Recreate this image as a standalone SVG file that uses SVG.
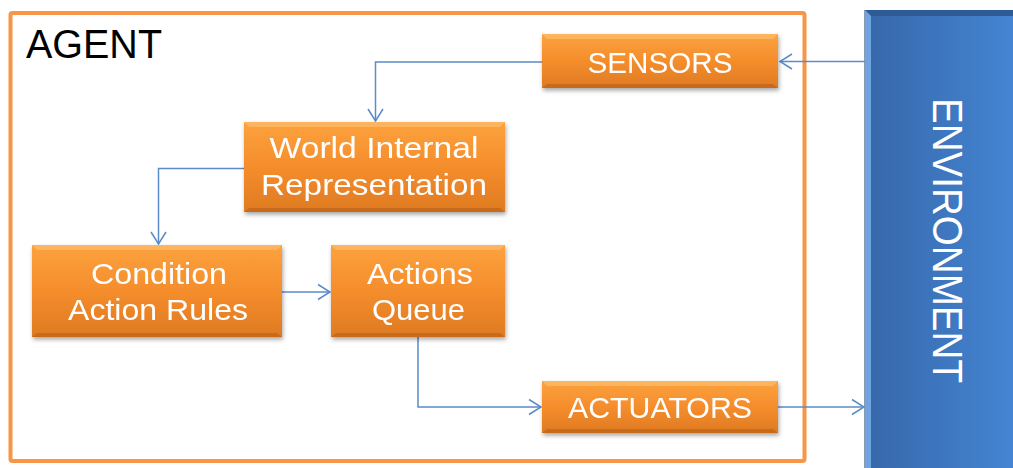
<svg xmlns="http://www.w3.org/2000/svg" width="1013" height="468" viewBox="0 0 1013 468">
  <defs>
    <linearGradient id="orangeFill" x1="0" y1="0" x2="0" y2="1">
      <stop offset="0" stop-color="#FCA23E"/>
      <stop offset="0.5" stop-color="#F58D2C"/>
      <stop offset="1" stop-color="#DE7A22"/>
    </linearGradient>
    <linearGradient id="envFill" x1="0" y1="0" x2="1" y2="0">
      <stop offset="0" stop-color="#3767A9"/>
      <stop offset="1" stop-color="#4587D6"/>
    </linearGradient>
    <filter id="shadow" x="-10%" y="-20%" width="120%" height="150%">
      <feDropShadow dx="1" dy="2.5" stdDeviation="2" flood-color="#000" flood-opacity="0.35"/>
    </filter>
    <marker id="arrow" viewBox="0 0 14 18" refX="13" refY="9" markerWidth="14" markerHeight="18" orient="auto" markerUnits="userSpaceOnUse">
      <path d="M1,1.5 L13,9 L1,16.5" fill="none" stroke="#5B8BC8" stroke-width="1.5"/>
    </marker>
    <style>
      .box rect.base { fill: url(#orangeFill); }
      .box .hi { fill: #FFC47A; opacity: 0.55; }
      .box .lo { fill: #B8601A; opacity: 0.6; }
      .lbl { font-family: "Liberation Sans", Arial, sans-serif; font-size: 30px; fill: #FFFFFF; text-anchor: middle; }
      .conn path { fill: none; stroke: #5B8BC8; stroke-width: 1.5; marker-end: url(#arrow); }
    </style>
  </defs>

  <rect width="1013" height="468" fill="#FFFFFF"/>

  <!-- agent frame -->
  <g id="agent">
    <rect x="10.5" y="13" width="794" height="448" rx="2" fill="#FFFFFF" stroke="#F79646" stroke-width="4"/>
    <text x="26" y="58" font-family="'Liberation Sans', Arial, sans-serif" font-size="40" fill="#000000" textLength="136" lengthAdjust="spacingAndGlyphs">AGENT</text>
  </g>

  <!-- environment block -->
  <g id="environment">
    <rect x="865" y="10" width="160" height="470" fill="url(#envFill)"/>
    <polygon points="865,10 1013,10 1013,16 871,16" fill="#2E5A96"/>
    <polygon points="865,10 871,16 871,468 865,468" fill="#6FA3E2"/>
    <line x1="864.5" y1="10" x2="864.5" y2="468" stroke="#8A9AB0" stroke-width="1"/>
    <text transform="translate(933,240.5) rotate(90)" x="0" y="0" font-family="'Liberation Sans', Arial, sans-serif" font-size="42" fill="#FFFFFF" text-anchor="middle" textLength="285" lengthAdjust="spacingAndGlyphs">ENVIRONMENT</text>
  </g>

  <!-- connectors -->
  <g id="connectors" class="conn">
    <path d="M865,61.5 H780"/>
    <path d="M542,62 H375.5 V121"/>
    <path d="M244,168.5 H158.5 V244"/>
    <path d="M282,292 H330"/>
    <path d="M418,337 V407 H541"/>
    <path d="M778,407 H864"/>
  </g>

  <!-- sensors -->
  <g id="sensors" class="box" filter="url(#shadow)">
    <rect class="base" x="542" y="34" width="236" height="54"/>
    <polygon class="hi" points="542,34 778,34 773,39 547,39"/>
    <polygon class="lo" points="542,88 778,88 773,84 547,84"/>
    <text class="lbl" x="660" y="73" textLength="145" lengthAdjust="spacingAndGlyphs">SENSORS</text>
  </g>

  <!-- world internal representation -->
  <g id="world" class="box" filter="url(#shadow)">
    <rect class="base" x="244" y="122" width="261" height="90"/>
    <polygon class="hi" points="244,122 505,122 500,127 249,127"/>
    <polygon class="lo" points="244,212 505,212 500,208 249,208"/>
    <text class="lbl" x="374" y="158" textLength="209" lengthAdjust="spacingAndGlyphs">World Internal</text>
    <text class="lbl" x="374" y="195" textLength="226" lengthAdjust="spacingAndGlyphs">Representation</text>
  </g>

  <!-- condition action rules -->
  <g id="rules" class="box" filter="url(#shadow)">
    <rect class="base" x="32" y="245" width="250" height="92"/>
    <polygon class="hi" points="32,245 282,245 277,250 37,250"/>
    <polygon class="lo" points="32,337 282,337 277,333 37,333"/>
    <text class="lbl" x="159" y="284" textLength="136" lengthAdjust="spacingAndGlyphs">Condition</text>
    <text class="lbl" x="158" y="320" textLength="180" lengthAdjust="spacingAndGlyphs">Action Rules</text>
  </g>

  <!-- actions queue -->
  <g id="queue" class="box" filter="url(#shadow)">
    <rect class="base" x="331" y="245" width="174" height="92"/>
    <polygon class="hi" points="331,245 505,245 500,250 336,250"/>
    <polygon class="lo" points="331,337 505,337 500,333 336,333"/>
    <text class="lbl" x="420" y="284" textLength="106" lengthAdjust="spacingAndGlyphs">Actions</text>
    <text class="lbl" x="418.5" y="320" textLength="93" lengthAdjust="spacingAndGlyphs">Queue</text>
  </g>

  <!-- actuators -->
  <g id="actuators" class="box" filter="url(#shadow)">
    <rect class="base" x="542" y="381" width="236" height="52"/>
    <polygon class="hi" points="542,381 778,381 773,386 547,386"/>
    <polygon class="lo" points="542,433 778,433 773,429 547,429"/>
    <text class="lbl" x="660" y="418" textLength="184" lengthAdjust="spacingAndGlyphs">ACTUATORS</text>
  </g>
</svg>
